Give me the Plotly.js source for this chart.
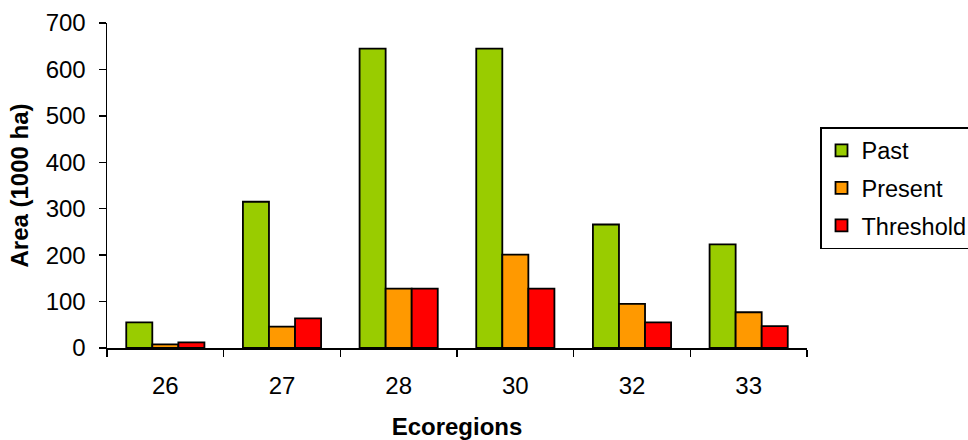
<!DOCTYPE html>
<html>
<head>
<meta charset="utf-8">
<script src="https://cdn.plot.ly/plotly-3.0.1.min.js"></script>
<style>
html,body{margin:0;padding:0;background:#fff;}
#chart{width:968px;height:440px;}
</style>
</head>
<body>
<div id="chart"></div>
<script>
const categories = ["26", "27", "28", "30", "32", "33"];
const pastValues = [55, 315, 645, 645, 266, 223];
const presentValues = [8, 46, 128, 201, 95, 77];
const thresholdValues = [12, 64, 128, 128, 55, 47];
const yTickValues = [0, 100, 200, 300, 400, 500, 600, 700];

const FONT = "Liberation Sans, Arial, sans-serif";

function barTrace(name, values, color, group) {
  return {
    type: "bar",
    name: name,
    x: categories,
    y: values,
    legendgroup: group,
    marker: { color: color, line: { color: "#000000", width: 1.8 } },
    hoverinfo: "x+y+name"
  };
}

const data = [
  barTrace("Past", pastValues, "#99CC00", "g1"),
  barTrace("Present", presentValues, "#FF9900", "g2"),
  barTrace("Threshold", thresholdValues, "#FF0000", "g3")
];

const layout = {
  width: 968,
  height: 440,
  margin: { l: 107, r: 161, t: 23, b: 92, pad: 0 },
  paper_bgcolor: "#ffffff",
  plot_bgcolor: "#ffffff",
  font: { family: FONT, size: 24, color: "#000000" },
  barmode: "group",
  bargap: 0.33,
  bargroupgap: 0,
  showlegend: true,
  legend: {
    xref: "container", yref: "container",
    x: 820 / 968, y: 1 - 127 / 440, xanchor: "left", yanchor: "top",
    orientation: "v",
    bgcolor: "#ffffff",
    bordercolor: "#000000",
    borderwidth: 1.5,
    font: { family: FONT, size: 23.5, color: "#000000" },
    tracegroupgap: 4,
    traceorder: "grouped"
  },
  xaxis: {
    type: "category",
    tickson: "boundaries",
    ticks: "outside",
    ticklen: 7,
    tickwidth: 1.5,
    tickcolor: "#000000",
    showline: true,
    linecolor: "#000000",
    linewidth: 1.5,
    showgrid: false,
    zeroline: false,
    ticklabelstandoff: 16,
    tickfont: { family: FONT, size: 24, color: "#000000" },
    automargin: false,
    title: { text: "<b>Ecoregions</b>", font: { family: FONT, size: 24, color: "#000000" }, standoff: 22 }
  },
  yaxis: {
    range: [0, 700],
    tickvals: yTickValues,
    ticktext: yTickValues.map(String),
    ticks: "outside",
    ticklen: 7,
    tickwidth: 1.5,
    tickcolor: "#000000",
    showline: true,
    linecolor: "#000000",
    linewidth: 1.5,
    showgrid: false,
    zeroline: false,
    ticklabelstandoff: 8,
    tickfont: { family: FONT, size: 24, color: "#000000" },
    automargin: false,
    title: { text: "<b>Area (1000 ha)</b>", font: { family: FONT, size: 24, color: "#000000" }, standoff: 10 }
  }
};

Plotly.newPlot("chart", data, layout, { displayModeBar: false, staticPlot: true });
</script>
</body>
</html>
